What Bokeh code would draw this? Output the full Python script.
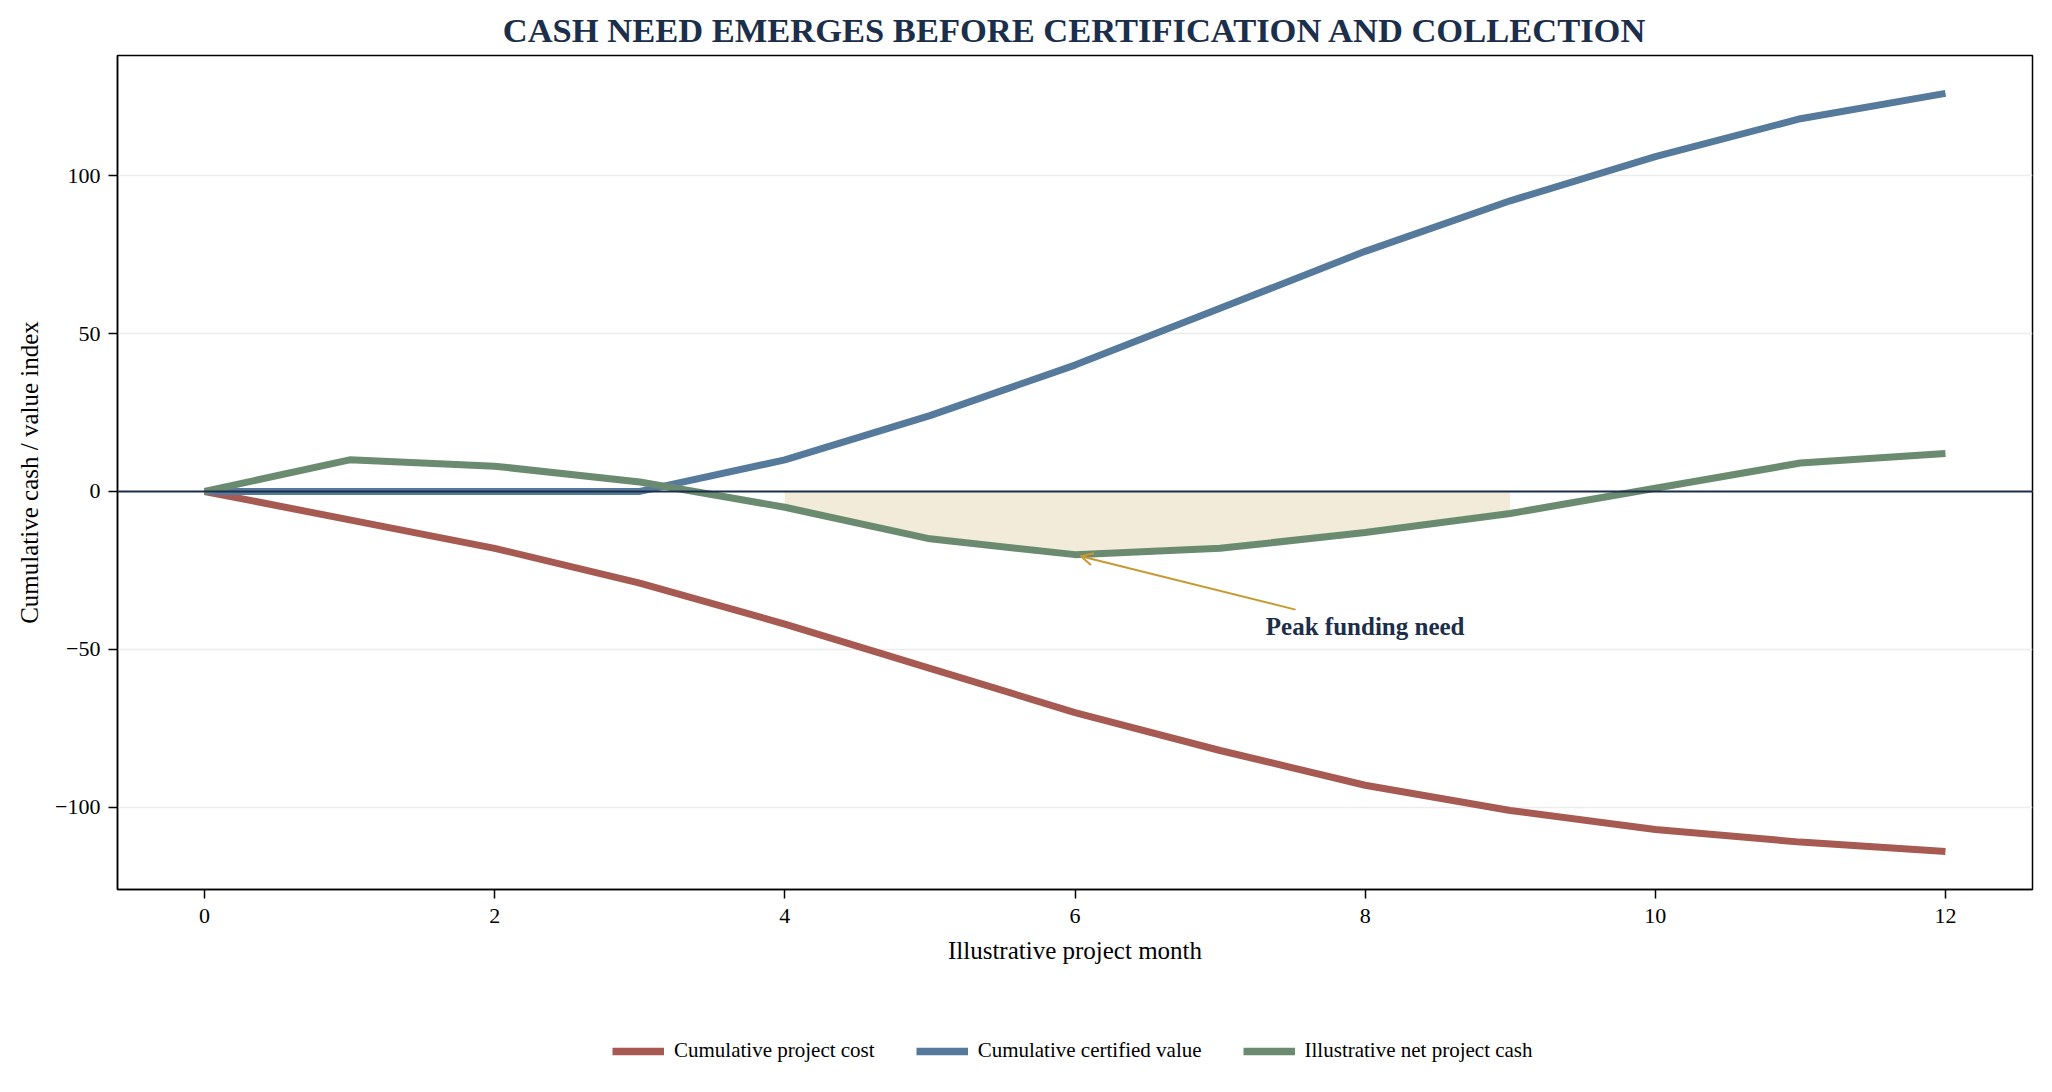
from bokeh.plotting import figure
from bokeh.layouts import column
from bokeh.models import (FixedTicker, Span, Arrow, OpenHead, Legend, LegendItem, Title)
from bokeh.core.properties import value
from bokeh.embed import file_html
from bokeh.resources import INLINE

months = [0, 1, 2, 3, 4, 5, 6, 7, 8, 9, 10, 11, 12]
cost = [0, -9, -18, -29, -42, -56, -70, -82, -93, -101, -107, -111, -114]
certified = [0, 0, 0, 0, 10, 24, 40, 58, 76, 92, 106, 118, 126]
net = [0, 10, 8, 3, -5, -15, -20, -18, -13, -7, 1, 9, 12]
series_names = ["Cumulative project cost", "Cumulative certified value", "Illustrative net project cash"]
x_ticks = [0, 2, 4, 6, 8, 10, 12]
y_ticks = [-100, -50, 0, 50, 100]
fill_start, fill_end = 4, 9
label_text = "Peak funding need"
label_x, label_y = 8.0, -42.7
arrow_tail = (7.52, -37.4)

FONT = "Liberation Serif"
NAVY = "#1b2e4a"
C_COST = "#a65a52"
C_CERT = "#557a9b"
C_NET = "#6b8b70"
C_FILL = "#f3ebd9"
C_ARROW = "#c9982e"
colors = [C_COST, C_CERT, C_NET]

W = 2043
p = figure(frame_width=1915, frame_height=834, output_backend="svg", toolbar_location=None,
           x_range=(-0.6, 12.6), y_range=(-126, 138),
           min_border_left=117, min_border_right=11, min_border_top=55, min_border_bottom=90)

p.title = Title(text="CASH NEED EMERGES BEFORE CERTIFICATION AND COLLECTION",
                align="center", text_font=FONT, text_font_size="34.5px",
                text_font_style="bold", text_color=NAVY, standoff=13)

p.outline_line_color = "black"
p.outline_line_width = 1.5
p.background_fill_color = "white"
p.border_fill_color = "white"

p.xgrid.grid_line_color = None
p.ygrid.grid_line_color = "#ececec"
p.ygrid.grid_line_width = 1.5

for ax in (p.xaxis, p.yaxis):
    ax.axis_line_color = "black"
    ax.axis_line_width = 1.5
    ax.major_tick_line_color = "black"
    ax.major_tick_line_width = 1.5
    ax.major_tick_out = 9
    ax.major_tick_in = 0
    ax.minor_tick_line_color = None
    ax.major_label_text_font = FONT
    ax.major_label_text_font_size = "22px"
    ax.major_label_text_color = "black"
    ax.axis_label_text_font = FONT
    ax.axis_label_text_font_size = "25px"
    ax.axis_label_text_font_style = "normal"
    ax.axis_label_text_color = "black"

p.xaxis.major_label_standoff = 10
p.yaxis.major_label_standoff = 8
p.xaxis.ticker = FixedTicker(ticks=x_ticks)
p.yaxis.ticker = FixedTicker(ticks=y_ticks)
p.yaxis.major_label_overrides = {t: (("\u2212" + str(abs(t))) if t < 0 else str(t)) for t in y_ticks}
p.xaxis.axis_label = "Illustrative project month"
p.yaxis.axis_label = "Cumulative cash / value index"
p.xaxis.axis_label_standoff = 11
p.yaxis.axis_label_standoff = 9

i0, i1 = months.index(fill_start), months.index(fill_end)
p.varea(x=months[i0:i1 + 1], y1=net[i0:i1 + 1], y2=[0] * (i1 - i0 + 1), fill_color=C_FILL)

for ys, c in zip([cost, certified, net], colors):
    p.line(months, ys, line_color=c, line_width=7)

p.add_layout(Span(location=0, dimension="width", line_color=NAVY, line_width=2))

imin = net.index(min(net))
p.add_layout(Arrow(end=OpenHead(line_color=C_ARROW, line_width=2, size=12),
                   x_start=arrow_tail[0], y_start=arrow_tail[1],
                   x_end=months[imin] + 0.04, y_end=net[imin] - 0.5,
                   line_color=C_ARROW, line_width=2))
p.text(x=[label_x], y=[label_y], text=[label_text], text_font=value(FONT),
       text_font_size="25px", text_font_style="bold", text_color=NAVY,
       text_align="center", text_baseline="middle")

# legend strip below the chart
lf = figure(width=W, height=100, output_backend="svg", toolbar_location=None,
            x_range=(0, 1), y_range=(0, 1), min_border=0)
lf.axis.visible = False
lf.grid.visible = False
lf.outline_line_color = None
items = []
nan = float("nan")
for name, c in zip(series_names, colors):
    r = lf.line(x=[nan], y=[nan], line_color=c, line_width=7.5)
    items.append(LegendItem(label=name, renderers=[r]))
legend = Legend(items=items, orientation="horizontal", location=(495, 16))
legend.label_text_font = FONT
legend.label_text_font_size = "21px"
legend.label_text_color = "black"
legend.glyph_width = 52
legend.glyph_height = 24
legend.label_standoff = 10
legend.spacing = 41
legend.border_line_color = None
legend.background_fill_color = None
legend.margin = 0
legend.padding = 0
lf.add_layout(legend, "center")

open("out.html", "w").write(file_html(column(p, lf, spacing=0), INLINE))
